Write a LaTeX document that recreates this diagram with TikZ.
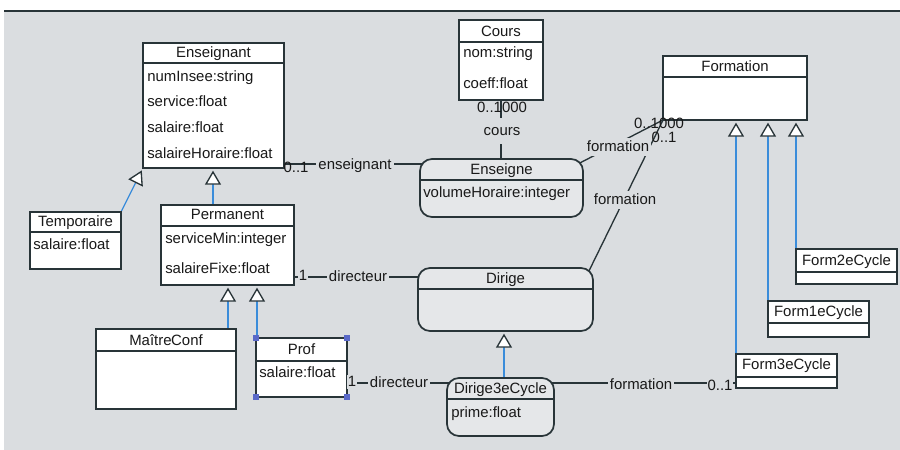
\documentclass[tikz,border=0pt]{standalone}
\usepackage{fontspec}
\setmainfont{Liberation Sans}
\usetikzlibrary{arrows.meta}
\definecolor{bg}{RGB}{218,221,224}
\definecolor{assocbg}{RGB}{229,231,233}
\definecolor{umld}{RGB}{40,52,56}
\definecolor{umlb}{RGB}{58,140,218}
\definecolor{txt}{RGB}{25,25,25}
\definecolor{handle}{RGB}{90,105,200}
\newcommand{\umlfont}{\fontsize{11.2}{13}\selectfont}
\newcommand{\umlbox}[6]{\node[#6, anchor=north west, minimum width={(#4-#2)*0.75pt}, minimum height={(#5-#3)*0.75pt}] (#1) at (#2,#3) {};}
\pgfdeclarelayer{bgzero}
\pgfdeclarelayer{edges}
\pgfsetlayers{bgzero,edges,main}
\begin{document}
\begin{tikzpicture}[x=0.75pt,y=-0.75pt,
  cls/.style={draw=umld, fill=white, line width=1.3pt, inner sep=0pt, outer sep=0pt, rectangle},
  asc/.style={draw=umld, fill=assocbg, line width=1.3pt, inner sep=0pt, outer sep=0pt, rectangle, rounded corners=9pt},
  ttl/.style={font=\umlfont, text=txt, inner sep=0pt, text height=8pt, text depth=2pt, anchor=center},
  att/.style={font=\umlfont, text=txt, inner sep=0pt, text height=8pt, text depth=2pt, anchor=west},
  lbl/.style={font=\umlfont, text=txt, fill=bg, inner sep=1.5pt, text height=8pt, text depth=2pt},
  mult/.style={font=\umlfont, text=txt, inner sep=0.5pt, text height=8pt, text depth=2pt},
  assoc/.style={draw=umld, line width=1pt},
  gen/.style={draw=umlb, line width=1pt, -{Triangle[width=12pt,length=10.5pt,fill=white,color=umld]}, shorten >=2pt},
  div/.style={draw=umld, line width=1.1pt},
]
\useasboundingbox (0,0) rectangle (900,450);
\begin{pgfonlayer}{bgzero}
\fill[white] (0,0) rectangle (900,450);
\fill[bg] (4,12) rectangle (900,450);
\draw[umld, line width=1.2pt] (4,11) -- (900,11);
\end{pgfonlayer}

% classes
\umlbox{ens}{143}{43}{284}{168}{cls}
\umlbox{cours}{459}{20}{543}{100}{cls}
\umlbox{form}{663}{56}{807}{120}{cls}
\umlbox{temp}{30}{212}{121}{269}{cls}
\umlbox{perm}{161}{205}{294}{285}{cls}
\umlbox{mc}{96}{329}{236}{409}{cls}
\umlbox{prof}{256}{338}{347}{397}{cls}
\umlbox{ensg}{420}{159}{583}{217}{asc}
\umlbox{dir}{418}{268}{593}{331}{asc}
\umlbox{dtc}{447}{378}{554}{436}{asc}
\umlbox{ftwo}{796}{249}{897}{284}{cls}
\umlbox{fone}{768}{301}{869}{337}{cls}
\umlbox{fthree}{736}{354}{837}{388}{cls}

% dividers
\draw[div] (143,63) -- (284,63);
\draw[div] (459,42) -- (543,42);
\draw[div] (663,77) -- (807,77);
\draw[div] (30,232) -- (121,232);
\draw[div] (161,226) -- (294,226);
\draw[div] (96,351) -- (236,351);
\draw[div] (256,361) -- (347,361);
\draw[div] (420,180) -- (583,180);
\draw[div] (418,289) -- (593,289);
\draw[div] (447,399) -- (554,399);
\draw[div] (796,272) -- (897,272);
\draw[div] (768,323) -- (869,323);
\draw[div] (736,377) -- (837,377);

% texts
\node[ttl] (t1) at (213.5,53) {Enseignant};
\node[att] (a1) at (147,77) {numInsee:string};
\node[att] (a2) at (147,102) {service:float};
\node[att] (a3) at (147,128) {salaire:float};
\node[att] (a4) at (147,154) {salaireHoraire:float};
\node[ttl] (t2) at (501,32) {Cours};
\node[att] (a5) at (463,53) {nom:string};
\node[att] (a6) at (463,84) {coeff:float};
\node[ttl] (t3) at (735,67) {Formation};
\node[ttl] (t4) at (75.5,222) {Temporaire};
\node[att] (a7) at (33,245) {salaire:float};
\node[ttl] (t5) at (227.5,215) {Permanent};
\node[att] (a8) at (165,239) {serviceMin:integer};
\node[att] (a9) at (165,269) {salaireFixe:float};
\node[ttl] (t6) at (166,341) {Maître\kern-0.3ptConf};
\node[ttl] (t7) at (301.5,350) {Prof};
\node[att] (a10) at (259,373) {salaire:float};
\node[ttl] (t8) at (501.5,170) {Enseigne};
\node[att] (a11) at (423,193) {volumeHoraire:integer};
\node[ttl] (t9) at (505.5,279) {Dirige};
\node[ttl] (t10) at (500.5,389) {Dirige3eCycle};
\node[att] (a12) at (451,413) {prime:float};
\node[ttl] (t11) at (846.5,261) {Form2eCycle};
\node[ttl] (t12) at (818.5,312) {Form1eCycle};
\node[ttl] (t13) at (786.5,365) {Form3eCycle};

% selection handles on Prof
\fill[handle] (253,335) rectangle (259,341);
\fill[handle] (344,335) rectangle (350,341);
\fill[handle] (253,394) rectangle (259,400);
\fill[handle] (344,394) rectangle (350,400);

\coordinate (ensgc) at (574,166);
\coordinate (dirc) at (586,277);

\begin{pgfonlayer}{edges}
% generalizations
\draw[gen] (temp.north east) -- (ens.south west);
\draw[gen] (perm.north -| 213,0) -- (ens.south -| 213,0);
\draw[gen] (mc.north -| 228,0) -- (perm.south -| 228,0);
\draw[gen] (prof.north -| 257,0) -- (perm.south -| 257,0);
\draw[gen] (dtc.north -| 504,0) -- (dir.south -| 504,0);
\draw[gen] (fthree.north west) -- (form.south -| fthree.north west);
\draw[gen] (fone.north west) -- (form.south -| fone.north west);
\draw[gen] (ftwo.north west) -- (form.south -| ftwo.north west);
% associations
\draw[assoc] (ens.east |- 0,164) -- (ensg.center |- 0,164);
\draw[assoc] (cours.south) -- (ensg.center -| cours.south);
\draw[assoc] (ensgc) -- (form.south west);
\draw[assoc] (dirc) -- (form.south west);
\draw[assoc] (perm.east |- 0,277) -- (dir.center |- 0,277);
\draw[assoc] (prof.east |- 0,383) -- (dtc.center |- 0,383);
\draw[assoc] (dtc.center |- 0,383) -- (fthree.west |- 0,383);
\end{pgfonlayer}

% labels
\node[mult] (m1) at (296,168) {0..1};
\node[lbl] (l1) at (355,165) {enseignant};
\node[mult] (m2) at (502,108) {0..1000};
\node[lbl, minimum height=20pt] (l2) at (502,131) {cours};
\node[lbl] (l3) at (618,147) {formation};
\node[lbl] (l4) at (625,200) {formation};
\node[mult] (m3) at (659,124) {0..1000};
\node[mult] (m4) at (664,138) {0..1};
\node[mult, fill=bg] (m5) at (303,276) {1};
\node[lbl] (l5) at (358,277) {directeur};
\node[mult, fill=bg] (m6) at (352,382) {1};
\node[lbl] (l6) at (399,383) {directeur};
\node[lbl] (l7) at (641,385) {formation};
\node[mult, fill=bg] (m7) at (720,386) {0..1};
\end{tikzpicture}
\end{document}
